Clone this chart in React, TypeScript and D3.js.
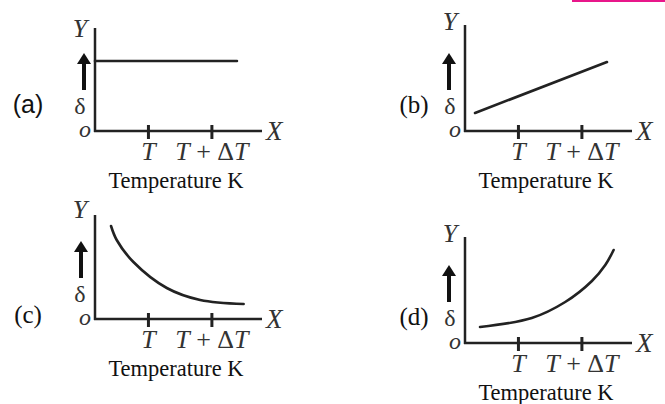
import React, { useEffect, useRef } from "react";
import * as d3 from "d3";

// curves of delta vs temperature (0-100 on both axes)
const panelLabels = ["(a)", "(b)", "(c)", "(d)"];
const tickValues = [32, 70];
const seriesA: [number, number][] = [[0, 70], [85, 70]];
const seriesB: [number, number][] = [[6, 18], [85, 69]];
const seriesC: [number, number][] = [[9.6, 93], [13, 79], [23, 57], [43, 31], [63, 19], [89, 15]];
const seriesD: [number, number][] = [[9, 16], [40, 25], [60, 41], [76, 62], [84, 78], [89, 93]];

const serif = "'Liberation Serif', 'Times New Roman', serif";
const ink = "#222";

// layout per panel: origin, y-axis height, little offsets
const panels = [
  { ox: 95, oy: 131, h: 103, data: seriesA, curved: false, arrowX: 84, yLab: 9, labX: 28, labY: -18, labFont: "'Liberation Sans', Arial, sans-serif" },
  { ox: 465, oy: 131, h: 106, data: seriesB, curved: false, arrowX: 449, yLab: 5, labX: 414, labY: -18, labFont: serif },
  { ox: 95, oy: 319, h: 104, data: seriesC, curved: true, arrowX: 81, yLab: 3, labX: 28, labY: 4, labFont: serif },
  { ox: 465, oy: 343, h: 106, data: seriesD, curved: true, arrowX: 449, yLab: 5, labX: 414, labY: -18, labFont: serif },
];

export default function App() {
  const svgRef = useRef<SVGSVGElement>(null);

  useEffect(() => {
    const svg = d3.select(svgRef.current);
    svg.selectAll("*").remove();

    svg.append("rect").attr("x", 572).attr("y", 0).attr("width", 93).attr("height", 2).attr("fill", "#e8168a");

    panels.forEach((p, i) => {
      const x = d3.scaleLinear().domain([0, 100]).range([p.ox, p.ox + 167]);
      const y = d3.scaleLinear().domain([0, 100]).range([p.oy, p.oy - 100]);
      const g = svg.append("g");
      const top = p.oy - p.h;

      // axes
      g.append("line").attr("x1", p.ox).attr("x2", p.ox).attr("y1", top).attr("y2", p.oy + 1)
        .attr("stroke", ink).attr("stroke-width", 2.5);
      g.append("line").attr("x1", p.ox - 1).attr("x2", x(100)).attr("y1", p.oy).attr("y2", p.oy)
        .attr("stroke", ink).attr("stroke-width", 2.5);

      tickValues.forEach((t) => {
        g.append("line").attr("x1", x(t)).attr("x2", x(t)).attr("y1", p.oy - 6).attr("y2", p.oy + 8)
          .attr("stroke", ink).attr("stroke-width", 3);
      });

      // the curve
      const line = d3.line<[number, number]>()
        .x((d) => x(d[0]))
        .y((d) => y(d[1]))
        .curve(p.curved ? d3.curveCatmullRom.alpha(0.5) : d3.curveLinear);
      g.append("path").attr("d", line(p.data)).attr("fill", "none")
        .attr("stroke", ink).attr("stroke-width", 2.6).attr("stroke-linecap", "round");

      // arrow
      g.append("line").attr("x1", p.arrowX).attr("x2", p.arrowX).attr("y1", p.oy - 41).attr("y2", p.oy - 68)
        .attr("stroke", "#111").attr("stroke-width", 4);
      g.append("path")
        .attr("d", `M${p.arrowX},${p.oy - 78} L${p.arrowX - 7},${p.oy - 67} L${p.arrowX + 7},${p.oy - 67} Z`)
        .attr("fill", "#111");

      const txt = (tx: number, ty: number, s: string, size: number, italic = false, anchor = "middle") =>
        g.append("text").attr("x", tx).attr("y", ty).attr("text-anchor", anchor)
          .attr("font-family", serif).attr("font-size", size)
          .attr("font-style", italic ? "italic" : "normal").attr("fill", "#333").text(s);

      txt(p.ox - 15, top + p.yLab, "Y", 26, true);
      txt(p.ox - 15, p.oy - 17, "δ", 24);
      txt(p.ox - 10, p.oy + 6, "o", 24, true);
      txt(x(100) + 4, p.oy + 9, "X", 27, true, "start");

      txt(x(tickValues[0]), p.oy + 29, "T", 26, true);
      const tt = g.append("text").attr("x", x(tickValues[1])).attr("y", p.oy + 29).attr("text-anchor", "middle")
        .attr("font-family", serif).attr("font-size", 26).attr("fill", "#333");
      tt.append("tspan").attr("font-style", "italic").text("T");
      tt.append("tspan").text(" + Δ");
      tt.append("tspan").attr("font-style", "italic").text("T");

      g.append("text").attr("x", p.ox + 81).attr("y", p.oy + 57).attr("text-anchor", "middle")
        .attr("font-family", serif).attr("font-size", 22.5).attr("fill", "#111").text("Temperature K");

      g.append("text").attr("x", p.labX).attr("y", p.oy + p.labY).attr("text-anchor", "middle")
        .attr("font-family", p.labFont).attr("font-size", 25).attr("fill", "#111").text(panelLabels[i]);
    });
  }, []);

  return (
    <div style={{ position: "absolute", left: 0, top: 0, width: 665, height: 404, background: "#fff" }}>
      <svg ref={svgRef} width={665} height={404}></svg>
    </div>
  );
}
